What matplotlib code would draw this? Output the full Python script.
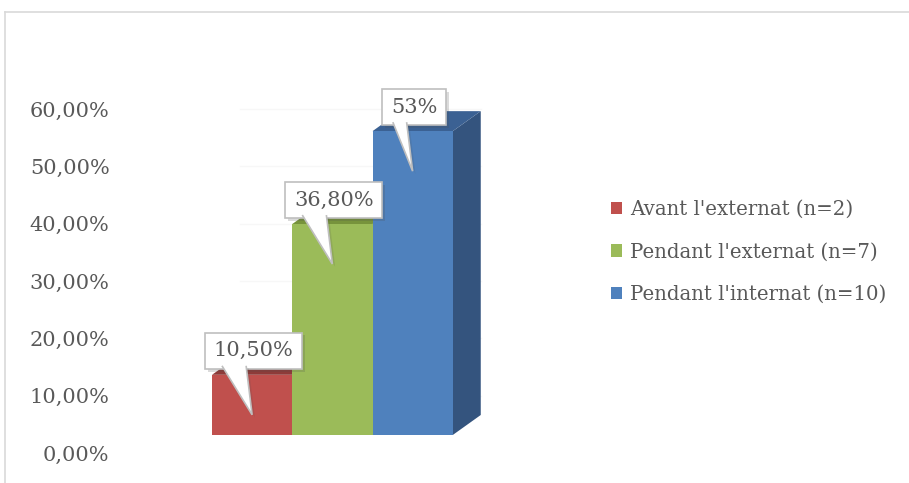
import matplotlib
matplotlib.use("Agg")
import matplotlib.pyplot as plt
import matplotlib.transforms as mtransforms
import matplotlib.patheffects as pe
from matplotlib.patches import Polygon, Patch
from matplotlib.lines import Line2D

# données
categories = ["Avant l'externat (n=2)", "Pendant l'externat (n=7)", "Pendant l'internat (n=10)"]
values = [10.5, 36.8, 53.0]
value_labels = ["10,50%", "36,80%", "53%"]
yticks = [0, 10, 20, 30, 40, 50, 60]
ytick_labels = ["0,00%", "10,00%", "20,00%", "30,00%", "40,00%", "50,00%", "60,00%"]

front_colors = ['#C0504D', '#9BBB59', '#4F81BD']
top_colors = ['#8E3B39', '#77933C', '#3B6193']
side_colors = ['#8E3B39', '#6F8A3C', '#34547E']
text_color = '#595959'

plt.rcParams['font.family'] = ['DejaVu Serif']
fs = 15

W, H = 909, 483
fig = plt.figure(figsize=(W / 100, H / 100), dpi=100)
px_x = 80.25   # pixels par catégorie
px_y = 5.733   # pixels par %
ax_left, ax_bottom = 131.75, 30
ax = fig.add_axes([ax_left / W, ax_bottom / H, 5 * px_x / W, 65 * px_y / H])

# effet 3D : profondeur
lift = 18
dx = 28 / px_x
dy = 20 / px_y
front = ax.transData + mtransforms.Affine2D().translate(0, lift)

# lignes de fond très claires
for t in yticks[1:]:
    ax.plot([-0.5 + dx, 2.5 + dx], [t, t], color='#F7F7F7', lw=1, zorder=0)

for i, v in enumerate(values):
    x0, x1 = i - 0.5, i + 0.5
    side = Polygon([(x1, 0), (x1 + dx, dy), (x1 + dx, v + dy), (x1, v)],
                   closed=True, fc=side_colors[i], ec='none', transform=front, zorder=2 + i * 3)
    top = Polygon([(x0, v), (x1, v), (x1 + dx, v + dy), (x0 + dx, v + dy)],
                  closed=True, fc=top_colors[i], ec='none', transform=front, zorder=3 + i * 3)
    ax.add_patch(side)
    ax.add_patch(top)
    ax.bar(i, v, width=1.0, color=front_colors[i], transform=front, zorder=4 + i * 3)

ax.set_xlim(-1.5, 3.5)
ax.set_ylim(0, 65)
ax.set_yticks(yticks)
ax.set_yticklabels(ytick_labels)
ax.set_xticks([])
ax.tick_params(axis='y', length=0, pad=16, labelsize=fs, labelcolor=text_color)
for s in ax.spines.values():
    s.set_visible(False)

# étiquettes en bulles
tip = ax.transData + mtransforms.Affine2D().translate(0, lift - 40)
anns = []
for i, (v, lab) in enumerate(zip(values, value_labels)):
    ann = ax.annotate(lab, xy=(i, v), xycoords=tip, xytext=(1.5, 64),
                      textcoords='offset pixels', ha='center', va='center',
                      fontsize=fs, color=text_color, zorder=20,
                      bbox=dict(boxstyle='square,pad=0.42', fc='white', ec='#BFBFBF', lw=1.2))
    ann.get_bbox_patch().set_path_effects([pe.SimplePatchShadow(offset=(2, -2), alpha=0.2), pe.Normal()])
    anns.append(ann)

fig.canvas.draw()
for i, (v, ann) in enumerate(zip(values, anns)):
    half = ann.get_bbox_patch().get_window_extent().width / 2
    pts = [(-0.62 * half, 49), (0, 0), (-6, 49)]
    pts = [(a / 100, b / 100) for a, b in pts]
    ptr_trans = fig.dpi_scale_trans + mtransforms.ScaledTranslation(i, v, tip)
    ptr = Polygon(pts, closed=False, fc='white', ec='#BFBFBF', lw=1.2,
                  transform=ptr_trans, zorder=21, clip_on=False)
    ptr.set_path_effects([pe.SimplePatchShadow(offset=(2, -2), alpha=0.15), pe.Normal()])
    ax.add_patch(ptr)

# légende
handles = [Patch(facecolor=c, edgecolor='none') for c in front_colors]
fig.legend(handles, categories, loc='center left', bbox_to_anchor=(611 / W, (H - 252) / H),
           frameon=False, fontsize=14.2, labelcolor=text_color,
           handlelength=0.58, handleheight=0.58, handletextpad=0.4,
           labelspacing=1.2, borderpad=0, borderaxespad=0)

# bordure de la zone du graphique
fig.add_artist(Line2D([5 / W, 1], [1 - 12 / H, 1 - 12 / H], transform=fig.transFigure, color='#D9D9D9', lw=1.2))
fig.add_artist(Line2D([5 / W, 5 / W], [0, 1 - 12 / H], transform=fig.transFigure, color='#D9D9D9', lw=1.2))

fig.savefig('out.png', dpi=100)
